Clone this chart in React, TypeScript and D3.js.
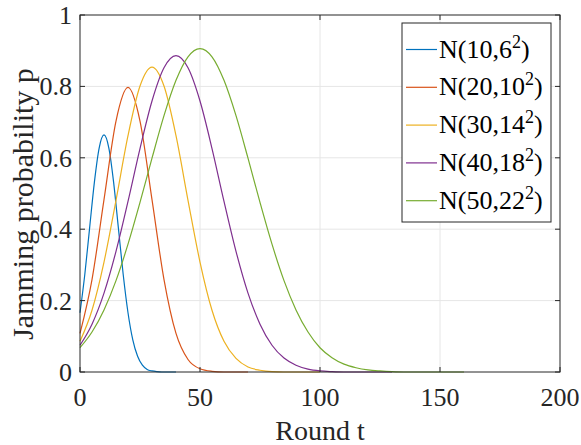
import { useEffect, useRef } from "react";
import * as d3 from "d3";

// readings
const blueT = [0, 2, 4, 6, 8, 10, 12, 14, 16, 18, 20, 22, 24, 26, 28, 30, 32, 34, 36, 38, 40];
const blueP = [0.166, 0.273, 0.403, 0.532, 0.628, 0.664, 0.628, 0.532, 0.403, 0.273, 0.166, 0.09, 0.044, 0.019, 0.007, 0.003, 0.001, 0, 0, 0, 0];

const redT = [0, 5, 10, 15, 20, 25, 30, 35, 40, 45, 50, 55, 60, 65, 70];
const redP = [0.108, 0.259, 0.483, 0.703, 0.797, 0.703, 0.483, 0.259, 0.108, 0.035, 0.009, 0.002, 0, 0, 0];

const yellowT = [0, 5, 10, 15, 20, 25, 30, 35, 40, 45, 50, 55, 60, 65, 70, 75, 80, 85, 90, 95, 100];
const yellowP = [0.086, 0.173, 0.308, 0.481, 0.662, 0.801, 0.854, 0.801, 0.662, 0.481, 0.308, 0.173, 0.086, 0.038, 0.014, 0.005, 0.001, 0, 0, 0, 0];

const purpleT = [0, 5, 10, 15, 20, 25, 30, 35, 40, 45, 50, 55, 60, 65, 70, 75, 80, 85, 90, 95, 100, 105, 110, 115, 120, 125, 130];
const purpleP = [0.075, 0.134, 0.221, 0.338, 0.478, 0.626, 0.759, 0.852, 0.886, 0.852, 0.759, 0.626, 0.478, 0.338, 0.221, 0.134, 0.075, 0.039, 0.019, 0.008, 0.003, 0.001, 0, 0, 0, 0, 0];

const greenT = [0, 5, 10, 15, 20, 25, 30, 35, 40, 45, 50, 55, 60, 65, 70, 75, 80, 85, 90, 95, 100, 105, 110, 115, 120, 125, 130, 135, 140, 145, 150, 155, 160];
const greenP = [0.068, 0.112, 0.174, 0.256, 0.358, 0.475, 0.599, 0.718, 0.817, 0.883, 0.906, 0.883, 0.817, 0.718, 0.599, 0.475, 0.358, 0.256, 0.174, 0.112, 0.068, 0.04, 0.022, 0.012, 0.006, 0.003, 0.001, 0, 0, 0, 0, 0, 0];

const seriesNames = [
  { base: "N(10,6", sup: "2" },
  { base: "N(20,10", sup: "2" },
  { base: "N(30,14", sup: "2" },
  { base: "N(40,18", sup: "2" },
  { base: "N(50,22", sup: "2" },
];
const colors = ["#0072BD", "#D95319", "#EDB120", "#7E2F8E", "#77AC30"];
const xTicks = [0, 50, 100, 150, 200];
const yTicks = [0, 0.2, 0.4, 0.6, 0.8, 1];

const FONT = '"Liberation Serif", "DejaVu Serif", "Times New Roman", Times, serif';

const App = () => {
  const svgRef = useRef(null);

  useEffect(() => {
    const W = 581;
    const H = 445;
    const M = { top: 15, right: 21, bottom: 73, left: 80 };

    const x = d3.scaleLinear().domain([0, 200]).range([M.left, W - M.right]);
    const y = d3.scaleLinear().domain([0, 1]).range([H - M.bottom, M.top]);

    const svg = d3
      .select(svgRef.current)
      .attr("width", W)
      .attr("height", H)
      .style("font-family", FONT);
    svg.selectAll("*").remove();

    svg.append("rect").attr("width", W).attr("height", H).attr("fill", "#fff");

    // grid
    const grid = svg.append("g").attr("stroke", "#e6e6e6").attr("stroke-width", 1);
    xTicks.slice(1, -1).forEach((t) => {
      grid.append("line").attr("x1", x(t)).attr("x2", x(t)).attr("y1", y(0)).attr("y2", y(1));
    });
    yTicks.slice(1, -1).forEach((t) => {
      grid.append("line").attr("x1", x(0)).attr("x2", x(200)).attr("y1", y(t)).attr("y2", y(t));
    });

    // curves
    const all = [
      [blueT, blueP],
      [redT, redP],
      [yellowT, yellowP],
      [purpleT, purpleP],
      [greenT, greenP],
    ];
    const line = d3
      .line()
      .x((d) => x(d[0]))
      .y((d) => y(d[1]))
      .curve(d3.curveMonotoneX);

    all.forEach(([ts, ps], i) => {
      const pts = ts.map((t, k) => [t, ps[k]]);
      svg
        .append("path")
        .attr("d", line(pts))
        .attr("fill", "none")
        .attr("stroke", colors[i])
        .attr("stroke-width", 1.2);
    });

    // axes box with inward ticks
    const axis = svg.append("g").attr("stroke", "#262626").attr("stroke-width", 1).attr("fill", "none");
    axis
      .append("rect")
      .attr("x", x(0))
      .attr("y", y(1))
      .attr("width", x(200) - x(0))
      .attr("height", y(0) - y(1));
    const TL = 5;
    xTicks.forEach((t) => {
      axis.append("line").attr("x1", x(t)).attr("x2", x(t)).attr("y1", y(0)).attr("y2", y(0) - TL);
      axis.append("line").attr("x1", x(t)).attr("x2", x(t)).attr("y1", y(1)).attr("y2", y(1) + TL);
    });
    yTicks.forEach((t) => {
      axis.append("line").attr("x1", x(0)).attr("x2", x(0) + TL).attr("y1", y(t)).attr("y2", y(t));
      axis.append("line").attr("x1", x(200)).attr("x2", x(200) - TL).attr("y1", y(t)).attr("y2", y(t));
    });

    // tick labels
    svg
      .selectAll(".xlab")
      .data(xTicks)
      .enter()
      .append("text")
      .attr("x", (d) => x(d))
      .attr("y", 406)
      .attr("text-anchor", "middle")
      .style("font-size", "26px")
      .attr("fill", "#262626")
      .text((d) => d);

    svg
      .selectAll(".ylab")
      .data(yTicks)
      .enter()
      .append("text")
      .attr("x", 72)
      .attr("y", (d) => y(d) + 9)
      .attr("text-anchor", "end")
      .style("font-size", "26px")
      .attr("fill", "#262626")
      .text((d) => d3.format("~g")(d));

    // axis titles
    svg
      .append("text")
      .attr("x", x(100))
      .attr("y", 440)
      .attr("text-anchor", "middle")
      .style("font-size", "28px")
      .attr("fill", "#262626")
      .text("Round t");

    svg
      .append("text")
      .attr("transform", `translate(33,204) rotate(-90)`)
      .attr("text-anchor", "middle")
      .style("font-size", "30px")
      .attr("fill", "#262626")
      .text("Jamming probability p");

    // legend
    const lg = svg.append("g");
    lg.append("rect")
      .attr("x", 402)
      .attr("y", 23)
      .attr("width", 149)
      .attr("height", 199)
      .attr("fill", "#fff")
      .attr("stroke", "#262626")
      .attr("stroke-width", 1);

    seriesNames.forEach((s, i) => {
      const ly = 49.5 + i * 37.8;
      lg.append("line")
        .attr("x1", 406)
        .attr("x2", 437)
        .attr("y1", ly)
        .attr("y2", ly)
        .attr("stroke", colors[i])
        .attr("stroke-width", 1.2);
      const txt = lg
        .append("text")
        .attr("x", 439)
        .attr("y", ly + 8)
        .style("font-size", "26px")
        .attr("fill", "#000");
      txt.append("tspan").text(s.base);
      txt.append("tspan").attr("dy", -10).style("font-size", "18px").text(s.sup);
      txt.append("tspan").attr("dy", 10).text(")");
    });
  }, []);

  return (
    <div style={{ position: "absolute", left: 0, top: 0 }}>
      <svg ref={svgRef} style={{ display: "block" }} />
    </div>
  );
};

export default App;
